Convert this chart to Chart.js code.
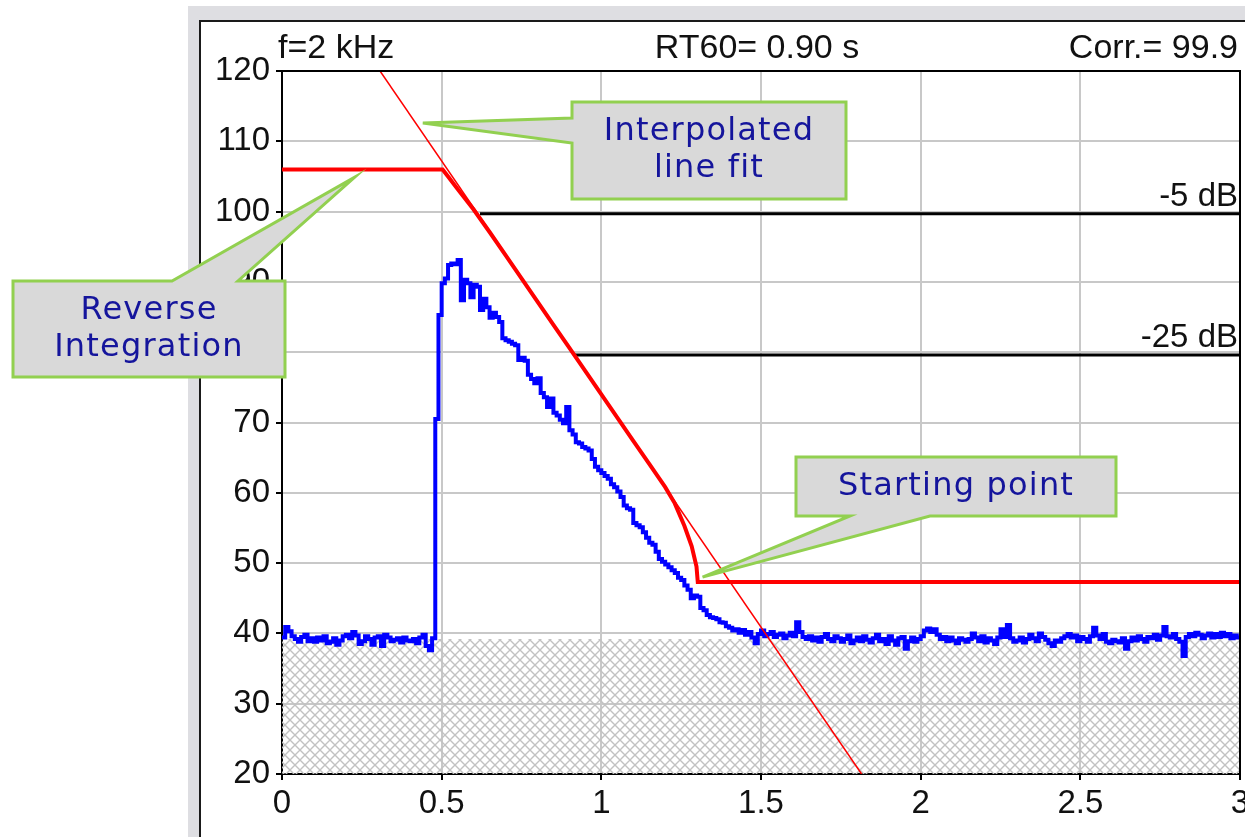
<!DOCTYPE html>
<html>
<head>
<meta charset="utf-8">
<title>Reverberation decay</title>
<script src="https://cdn.jsdelivr.net/npm/chart.js@4.4.1/dist/chart.umd.min.js"></script>
<style>
  html, body { margin: 0; padding: 0; background: #fff; }
  body { width: 1245px; height: 837px; position: relative; overflow: hidden; }
  .frame { position: absolute; left: 188px; top: 6px; right: 0; bottom: 0; background: #dedee2; }
  .panel { position: absolute; left: 199px; top: 20px; right: 0; bottom: 0; background: #fff;
           border-left: 2px solid #1a1a1a; border-top: 2px solid #1a1a1a; }
  canvas { position: absolute; left: 0; top: 0; }
</style>
</head>
<body>
<div class="frame"></div>
<div class="panel"></div>
<canvas id="rtChart" width="1245" height="837"></canvas>
<script>
// Axis ticks
const xTicks = [0, 0.5, 1, 1.5, 2, 2.5, 3];
const yTicks = [20, 30, 40, 50, 60, 70, 80, 90, 100, 110, 120];

// Measured impulse level (dB), one sample every 10 ms from 0 to 3 s
const blueStep = 0.01;
const blueLevels = [
    39.4, 40.9, 40.3, 39.6, 39.2, 38.8, 39.5, 39.8, 38.9, 39.3,
    38.8, 39.4, 39.0, 39.6, 38.6, 38.8, 39.3, 38.4, 39.0, 39.6,
    39.8, 39.3, 40.2, 39.7, 38.5, 38.9, 39.6, 39.2, 38.4, 39.4,
    39.6, 38.2, 39.8, 39.4, 38.9, 39.1, 39.3, 38.7, 39.4, 39.0,
    38.9, 39.2, 38.6, 39.4, 39.8, 38.2, 37.6, 39.3,
    70.5, 85.3, 89.8, 90.5, 92.4, 92.6, 92.5, 93.1, 87.4, 90.3,
    89.8, 87.8, 89.6, 89.3, 86.0, 87.6, 86.4, 84.9, 85.6, 85.0,
    84.3, 82.0, 81.7, 81.5, 81.2, 81.0, 78.9, 79.2, 78.8, 76.8,
    76.2, 75.6, 76.3, 74.2, 73.6, 72.2, 73.4, 71.4, 71.0, 70.4,
    69.9, 72.2, 68.9, 68.3, 67.2, 67.0, 66.5, 66.3, 66.0, 64.8,
    63.7, 63.2, 62.8, 62.4, 62.0, 61.2, 60.8, 60.2, 59.4, 58.2,
    57.8, 57.6, 55.7, 55.4, 55.1, 54.4, 53.6, 52.9, 52.6, 51.6,
    50.6, 50.2, 49.8, 49.4, 49.0, 48.6, 47.9, 47.6, 46.8, 46.2,
    45.0, 45.4, 45.2, 43.6, 43.3, 42.6, 42.3, 42.2, 42.0, 41.6,
    41.5, 41.0, 40.8, 40.4, 40.6, 40.1, 40.5,
    39.8, 40.2, 39.4, 38.6, 39.9, 40.4, 39.6, 39.9, 40.2, 39.5,
    39.8, 40.0, 39.3, 39.7, 40.1, 39.6, 41.6, 40.2, 39.5, 39.2,
    39.6, 39.0, 39.4, 38.8, 39.5, 39.9, 39.2, 38.9, 39.6, 39.3,
    38.8, 39.2, 39.7, 38.6, 39.0, 39.4, 38.9, 39.6, 39.1, 38.7,
    39.3, 39.8, 38.9, 39.2, 38.5, 39.6, 39.0, 38.4, 39.3, 39.5,
    37.8, 38.9, 39.4, 38.8, 39.2, 39.6, 40.4, 40.7, 40.2, 40.6,
    39.8, 39.2, 39.5, 38.9, 39.4, 39.0, 38.6, 39.3, 39.1, 38.8,
    39.2, 40.0, 39.4, 38.9, 39.6, 38.7, 39.3, 39.0, 38.5, 39.4,
    40.6, 39.5, 41.2, 39.3, 38.8, 39.0, 39.4, 38.7, 39.2, 39.8,
    39.3, 38.9, 40.0, 39.5, 39.1, 38.6, 38.2, 39.0, 38.8, 39.3,
    39.6, 39.9, 39.4, 39.7, 38.9, 39.5, 39.2, 38.8, 39.6, 40.8,
    39.7, 39.2, 39.9, 38.8, 38.6, 39.1, 38.9, 38.7, 39.3, 37.8,
    38.9, 39.4, 39.0, 39.6, 39.2, 38.8, 39.5, 39.3, 39.8, 39.1,
    39.7, 40.9, 39.6, 39.4, 39.9, 39.2, 38.8, 36.8, 39.5, 39.9,
    39.6, 40.1, 39.8, 39.3, 39.7, 40.0, 39.4, 39.9, 39.5, 40.1,
    39.6, 39.9, 39.3, 39.7, 39.4, 39.6
];

// Reverse (Schroeder) integration curve
const redTimes  = [0, 0.503, 0.52, 0.55, 0.60, 0.65, 0.70, 0.75, 0.80, 0.85, 0.90, 0.95, 1.00, 1.05, 1.10, 1.15, 1.20, 1.23, 1.26, 1.283, 1.298, 1.302, 3.0];
const redLevels = [106, 106, 105.0, 103.2, 100.3, 97.1, 93.8, 90.5, 87.2, 83.9, 80.6, 77.3, 74.0, 70.7, 67.4, 64.1, 60.8, 58.5, 55.3, 52.4, 49.5, 47.3, 47.3];

// Interpolated line fit
const fitTimes  = [0.307, 1.815];
const fitLevels = [120, 20];

// Evaluation range lines
const refLabels = ['-5 dB', '-25 dB'];
const refStarts = [0.62, 0.917];
const refLevels = [99.7, 79.6];
const refEnd = 3;

// Noise floor region (hatched)
const noiseFloor = 39.2;

// Header
const headerLeft = 'f=2 kHz';
const headerMid = 'RT60= 0.90 s';
const headerRight = 'Corr.= 99.9';

// Callouts: tip in data units, box in page pixels
const callouts = [
    { lines: ['Interpolated', 'line fit'], box: { l: 572, t: 102, r: 846, b: 199 }, side: 'left', base: [118, 143], tip: { x: 0.441, y: 112.6 } },
    { lines: ['Reverse', 'Integration'], box: { l: 13, t: 281, r: 285, b: 377 }, side: 'top', base: [172, 238], tip: { x: 0.228, y: 104.9 } },
    { lines: ['Starting point'], box: { l: 796, t: 457, r: 1116, b: 516 }, side: 'bottom', base: [850, 930], tip: { x: 1.317, y: 48.0 } }
];

const tickFont = { family: '"Liberation Sans", Arial, sans-serif', size: 33 };
const textColor = '#111';

function pts(xs, ys) {
    return xs.map((x, i) => ({ x: x, y: ys[i] }));
}

function makeHatch() {
    const c = document.createElement('canvas');
    c.width = 10; c.height = 10;
    const g = c.getContext('2d');
    g.strokeStyle = '#c2c2c2';
    g.lineWidth = 1.4;
    g.beginPath();
    g.moveTo(-1, -1); g.lineTo(11, 11);
    g.moveTo(11, -1); g.lineTo(-1, 11);
    g.stroke();
    return g.createPattern(c, 'repeat');
}

function drawCallout(ctx, c, tipX, tipY) {
    const { l, t, r, b } = c.box;
    ctx.save();
    ctx.beginPath();
    if (c.side === 'left') {
        ctx.moveTo(l, t); ctx.lineTo(r, t); ctx.lineTo(r, b); ctx.lineTo(l, b);
        ctx.lineTo(l, c.base[1]); ctx.lineTo(tipX, tipY); ctx.lineTo(l, c.base[0]);
    } else if (c.side === 'top') {
        ctx.moveTo(l, t); ctx.lineTo(c.base[0], t); ctx.lineTo(tipX, tipY); ctx.lineTo(c.base[1], t);
        ctx.lineTo(r, t); ctx.lineTo(r, b); ctx.lineTo(l, b);
    } else {
        ctx.moveTo(l, t); ctx.lineTo(r, t); ctx.lineTo(r, b); ctx.lineTo(c.base[1], b);
        ctx.lineTo(tipX, tipY); ctx.lineTo(c.base[0], b); ctx.lineTo(l, b);
    }
    ctx.closePath();
    ctx.fillStyle = '#d9d9d9';
    ctx.fill();
    ctx.lineWidth = 3;
    ctx.lineJoin = 'miter';
    ctx.strokeStyle = '#92d050';
    ctx.stroke();

    // text
    ctx.font = '32px "DejaVu Sans", Verdana, sans-serif';
    ctx.letterSpacing = '1.2px';
    ctx.fillStyle = '#15159c';
    ctx.textAlign = 'center';
    ctx.textBaseline = 'middle';
    const cx = (l + r) / 2, cy = (t + b) / 2;
    const lh = 37;
    const y0 = cy - (c.lines.length - 1) * lh / 2;
    c.lines.forEach((s, i) => ctx.fillText(s, cx, y0 + i * lh));
    ctx.restore();
}

// Frame, header texts, range labels and callouts
const overlayPlugin = {
    id: 'overlay',
    afterDraw(chart) {
        const ctx = chart.ctx;
        const area = chart.chartArea;
        const xs = chart.scales.x, ys = chart.scales.y;

        ctx.save();
        ctx.strokeStyle = '#000';
        ctx.lineWidth = 2;
        ctx.beginPath();
        ctx.moveTo(area.left, area.top);
        ctx.lineTo(area.right, area.top);
        ctx.lineTo(area.right, area.bottom);
        ctx.stroke();

        ctx.font = '34px "Liberation Sans", Arial, sans-serif';
        ctx.fillStyle = textColor;
        ctx.textBaseline = 'alphabetic';
        ctx.textAlign = 'left';
        ctx.fillText(headerLeft, area.left - 4, 58);
        ctx.textAlign = 'center';
        ctx.fillText(headerMid, (area.left + area.right) / 2 - 4, 58);
        ctx.textAlign = 'right';
        ctx.fillText(headerRight, area.right - 2, 58);

        ctx.font = '33px "Liberation Sans", Arial, sans-serif';
        refLabels.forEach((lab, i) => {
            ctx.fillText(lab, area.right - 2, ys.getPixelForValue(refLevels[i]) - 8);
        });
        ctx.restore();

        callouts.forEach(c => drawCallout(ctx, c, xs.getPixelForValue(c.tip.x), ys.getPixelForValue(c.tip.y)));
    }
};

const bluePts = blueLevels.map((v, i) => ({ x: +(i * blueStep).toFixed(2), y: v }));

const datasets = [
    { label: 'Line fit', data: pts(fitTimes, fitLevels), borderColor: '#ff0000', borderWidth: 1.5 },
    { label: 'Reverse integration', data: pts(redTimes, redLevels), borderColor: '#ff0000', borderWidth: 4 },
    { label: 'Impulse', data: bluePts, borderColor: '#0000ff', borderWidth: 4, stepped: true },
    ...refLabels.map((lab, i) => ({
        label: lab,
        data: [{ x: refStarts[i], y: refLevels[i] }, { x: refEnd, y: refLevels[i] }],
        borderColor: '#000', borderWidth: 3
    })),
    { label: 'Noise floor', data: [{ x: 0, y: noiseFloor }, { x: 3, y: noiseFloor }],
      borderColor: 'transparent', borderWidth: 0, fill: 'start', backgroundColor: makeHatch() }
].map(d => Object.assign({ showLine: true, pointRadius: 0, tension: 0 }, d));

new Chart(document.getElementById('rtChart').getContext('2d'), {
    type: 'scatter',
    data: { datasets: datasets },
    options: {
        responsive: false,
        animation: false,
        events: [],
        layout: { padding: { left: 200, top: 71, right: 5, bottom: 0 } },
        plugins: { legend: { display: false }, tooltip: { enabled: false } },
        scales: {
            x: {
                type: 'linear', min: 0, max: 3,
                afterBuildTicks: s => { s.ticks = xTicks.map(v => ({ value: v })); },
                afterFit: s => { s.height = 63; s.paddingLeft = 0; s.paddingRight = 0; },
                grid: { color: '#c8c8c8', lineWidth: 2, tickColor: '#000', tickLength: 6, tickWidth: 2 },
                border: { color: '#000', width: 2 },
                ticks: { font: tickFont, color: textColor, padding: 4, maxRotation: 0, autoSkip: false,
                         callback: v => String(v) }
            },
            y: {
                type: 'linear', min: 20, max: 120,
                afterBuildTicks: s => { s.ticks = yTicks.map(v => ({ value: v })); },
                afterFit: s => { s.width = 82; s.paddingTop = 0; s.paddingBottom = 0; },
                grid: { color: '#c8c8c8', lineWidth: 2, tickColor: '#000', tickLength: 6, tickWidth: 2 },
                border: { color: '#000', width: 2 },
                ticks: { font: tickFont, color: textColor, padding: 6, autoSkip: false,
                         callback: v => String(v) }
            }
        }
    },
    plugins: [overlayPlugin]
});
</script>
</body>
</html>
